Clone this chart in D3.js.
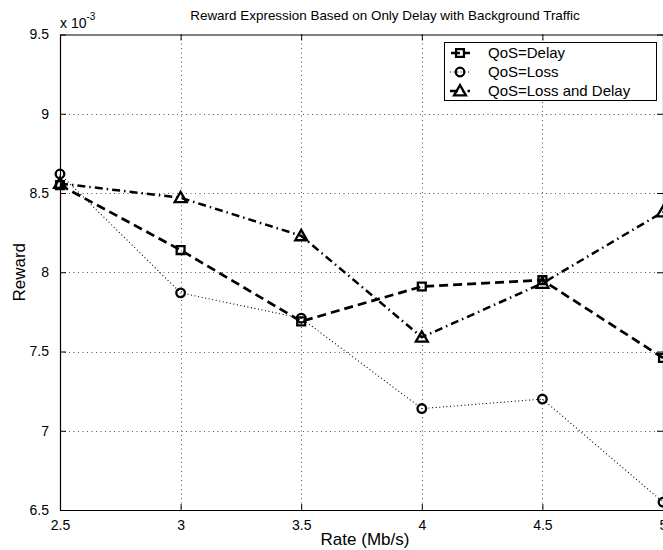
<!DOCTYPE html>
<html>
<head>
<meta charset="utf-8">
<script src="https://cdn.jsdelivr.net/npm/d3@7/dist/d3.min.js"></script>
<style>
  html, body { margin: 0; padding: 0; background: #fff; }
  svg { display: block; }
  text { font-family: "Liberation Sans", Arial, Helvetica, sans-serif; fill: #000; }
</style>
</head>
<body>
<svg id="chart" width="663" height="550"></svg>
<script>
// Transmission rate (Mb/s)
const rates = [2.5, 3, 3.5, 4, 4.5, 5];
// Reward values, in units of 10^-3
const rewardDelay        = [8.55, 8.14, 7.69, 7.91, 7.95, 7.46];
const rewardLoss         = [8.62, 7.87, 7.71, 7.14, 7.20, 6.55];
const rewardLossAndDelay = [8.56, 8.47, 8.23, 7.59, 7.93, 8.38];
const seriesNames = ["QoS=Delay", "QoS=Loss", "QoS=Loss and Delay"];
const xTicks = [2.5, 3, 3.5, 4, 4.5, 5];
const yTicks = [6.5, 7, 7.5, 8, 8.5, 9, 9.5];
const yExponent = -3;

const svg = d3.select("#chart");
const plotLeft = 60, plotRight = 663, plotTop = 34.5, plotBottom = 510;

const x = d3.scaleLinear().domain([2.5, 5]).range([plotLeft, plotRight]);
const y = d3.scaleLinear().domain([6.5, 9.5]).range([plotBottom, plotTop]);

// dotted grid
const grid = svg.append("g").attr("stroke", "#555").attr("stroke-width", 1)
  .attr("stroke-dasharray", "1,3.5");
grid.selectAll("line.gx").data(xTicks.slice(1, -1)).join("line")
  .attr("x1", d => Math.round(x(d)) + 0.5).attr("x2", d => Math.round(x(d)) + 0.5)
  .attr("y1", plotTop).attr("y2", plotBottom);
grid.selectAll("line.gy").data(yTicks.slice(1, -1)).join("line")
  .attr("y1", d => Math.round(y(d)) + 0.5).attr("y2", d => Math.round(y(d)) + 0.5)
  .attr("x1", plotLeft).attr("x2", plotRight);

// axes with inward ticks
const fmt = d => d3.format("")(d);
const xAxis = svg.append("g").attr("transform", `translate(0,${plotBottom})`)
  .call(d3.axisBottom(x).tickValues(xTicks).tickFormat(fmt).tickSizeInner(-6).tickSizeOuter(0).tickPadding(12));
const xTopAxis = svg.append("g").attr("transform", `translate(0,${plotTop})`)
  .call(d3.axisTop(x).tickValues(xTicks).tickFormat("").tickSizeInner(-6).tickSizeOuter(0));
const yAxis = svg.append("g").attr("transform", `translate(${plotLeft},0)`)
  .call(d3.axisLeft(y).tickValues(yTicks).tickFormat(fmt).tickSizeInner(-6).tickSizeOuter(0).tickPadding(11));
const yRightAxis = svg.append("g").attr("transform", `translate(${plotRight},0)`)
  .call(d3.axisRight(y).tickValues(yTicks).tickFormat("").tickSizeInner(-6).tickSizeOuter(0));

[xAxis, xTopAxis, yAxis, yRightAxis].forEach(g => {
  g.selectAll(".domain").attr("stroke", "#000").attr("stroke-width", 1.2);
  g.selectAll(".tick line").attr("stroke", "#000").attr("stroke-width", 1);
  g.selectAll(".tick text").attr("font-size", 14).attr("font-family", "Liberation Sans, Arial, sans-serif");
});
xAxis.selectAll(".tick text").attr("dy", "0.6em");

// exponent label
const expLabel = svg.append("text").attr("x", 60).attr("y", 28).attr("font-size", 14);
expLabel.append("tspan").text("x 10");
expLabel.append("tspan").attr("dy", -8).attr("font-size", 10).text(String(yExponent));

// title and axis labels
svg.append("text").attr("x", 385).attr("y", 20).attr("text-anchor", "middle")
  .attr("font-size", 12).attr("transform", "translate(385,0) scale(1.12,1) translate(-385,0)")
  .text("Reward Expression Based on Only Delay with Background Traffic");
svg.append("text").attr("x", 365).attr("y", 545).attr("text-anchor", "middle")
  .attr("font-size", 17).text("Rate (Mb/s)");
svg.append("text").attr("transform", `translate(25,${(plotTop + plotBottom) / 2}) rotate(-90)`)
  .attr("text-anchor", "middle").attr("font-size", 17).text("Reward");

// series styles
const series = [
  { name: seriesNames[0], values: rewardDelay, dash: "9,5", width: 2.7, marker: "square" },
  { name: seriesNames[1], values: rewardLoss, dash: "1,2.6", width: 1.1, marker: "circle" },
  { name: seriesNames[2], values: rewardLossAndDelay, dash: "8,4,1.5,4", width: 2.5, marker: "triangle" }
];

const symbolFor = {
  square: d3.symbol().type(d3.symbolSquare).size(62),
  circle: d3.symbol().type(d3.symbolCircle).size(58),
  triangle: d3.symbol().type(d3.symbolTriangle).size(62)
};

const line = d3.line().x((d, i) => x(rates[i])).y(d => y(d));

function drawMarker(g, type, cx, cy) {
  g.append("path").attr("d", symbolFor[type]())
    .attr("transform", `translate(${cx},${cy + (type === "triangle" ? 1 : 0)})`)
    .attr("fill", "none").attr("stroke", "#000").attr("stroke-width", 2.3);
}

const plot = svg.append("g");
series.forEach(s => {
  plot.append("path").datum(s.values).attr("d", line)
    .attr("fill", "none").attr("stroke", "#000")
    .attr("stroke-width", s.width).attr("stroke-dasharray", s.dash);
});
series.forEach(s => {
  const g = plot.append("g");
  s.values.forEach((v, i) => drawMarker(g, s.marker, x(rates[i]), y(v)));
});

// legend
const lg = svg.append("g");
lg.append("rect").attr("x", 444.5).attr("y", 42.5).attr("width", 212).attr("height", 58)
  .attr("fill", "#fff").attr("stroke", "#000").attr("stroke-width", 1);
series.forEach((s, i) => {
  const cy = 53 + i * 19;
  lg.append("line").attr("x1", 450).attr("x2", 470).attr("y1", cy).attr("y2", cy)
    .attr("stroke", "#000").attr("stroke-width", s.width).attr("stroke-dasharray", s.dash)
    .attr("stroke-dashoffset", i === 0 ? -1 : 0);
  drawMarker(lg, s.marker, 460, cy);
  lg.append("text").attr("x", 488).attr("y", cy + 5).attr("font-size", 15).text(s.name);
});
</script>
</body>
</html>
